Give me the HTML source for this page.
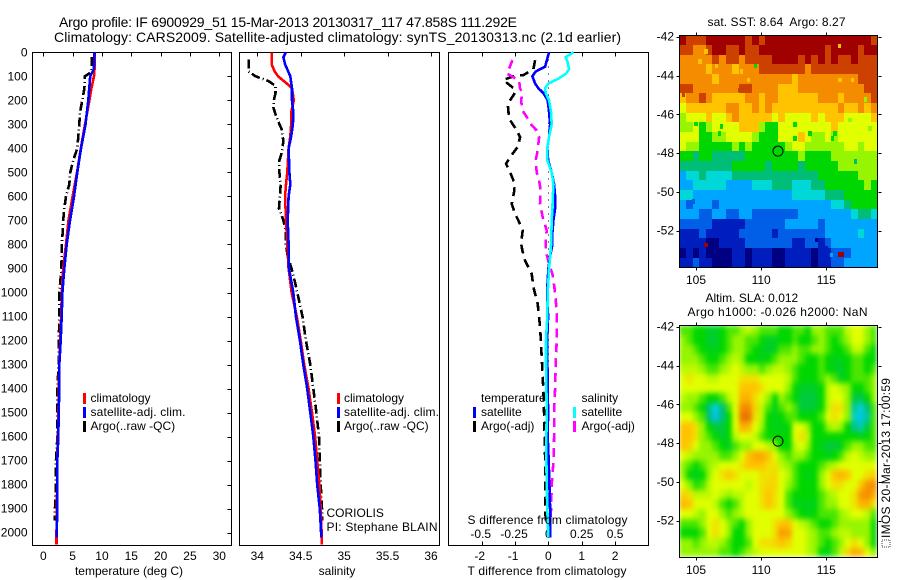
<!DOCTYPE html>
<html lang="en">
<head>
<meta charset="utf-8">
<title>Argo profile IF 6900929_51</title>
<style>
html,body{margin:0;padding:0;background:#fff;}
svg{display:block;}
text{font-family:"Liberation Sans",Arial,sans-serif;font-size:12px;fill:#000;}
.title{font-size:14px;}
</style>
</head>
<body>
<svg id="chart" xmlns="http://www.w3.org/2000/svg" width="900" height="580" viewBox="0 0 900 580">
  <defs>
    <clipPath id="clip-sst"><rect x="679.5" y="35.5" width="198" height="232"/></clipPath>
    <clipPath id="clip-sla"><rect x="679.5" y="325.5" width="198" height="232"/></clipPath>
    <filter id="smooth" x="0" y="0" width="100%" height="100%" color-interpolation-filters="sRGB">
      <feGaussianBlur stdDeviation="2.4 2.8" edgeMode="duplicate"/>
    </filter>
  </defs>

  <text class="title" x="59" y="27" textLength="458" lengthAdjust="spacing">Argo profile: IF 6900929_51 15-Mar-2013 20130317_117 47.858S 111.292E</text>
  <text class="title" x="54" y="42" textLength="567" lengthAdjust="spacing">Climatology: CARS2009. Satellite-adjusted climatology: synTS_20130313.nc (2.1d earlier)</text>

  <g id="panels"></g>
  <g id="maps"></g>

  <text x="129" y="575" text-anchor="middle">temperature (deg C)</text>
  <text x="337" y="575" text-anchor="middle">salinity</text>
  <text x="547" y="575" text-anchor="middle" textLength="159" lengthAdjust="spacing">T difference from climatology</text>
  <text x="547.5" y="524" text-anchor="middle" textLength="160" lengthAdjust="spacing">S difference from climatology</text>

  <g>
    <rect x="83" y="393" width="3" height="11" fill="#f00"/>
    <rect x="83" y="407" width="3" height="11" fill="#00f"/>
    <rect x="83" y="421" width="3" height="11" fill="#000"/>
    <text x="90.5" y="402">climatology</text>
    <text x="90.5" y="416" textLength="95" lengthAdjust="spacing">satellite-adj. clim.</text>
    <text x="90.5" y="430">Argo(..raw -QC)</text>
  </g>
  <g>
    <rect x="337" y="393" width="3" height="11" fill="#f00"/>
    <rect x="337" y="407" width="3" height="11" fill="#00f"/>
    <rect x="337" y="421" width="3" height="11" fill="#000"/>
    <text x="344" y="402">climatology</text>
    <text x="344" y="416" textLength="95" lengthAdjust="spacing">satellite-adj. clim.</text>
    <text x="344" y="430">Argo(..raw -QC)</text>
    <text x="326.5" y="517">CORIOLIS</text>
    <text x="326.5" y="531" textLength="111" lengthAdjust="spacing">PI: Stephane BLAIN</text>
  </g>
  <g>
    <rect x="473" y="407" width="3" height="11" fill="#00f"/>
    <rect x="473" y="421" width="3" height="11" fill="#000"/>
    <rect x="573" y="407" width="3" height="11" fill="#0ff"/>
    <rect x="573" y="421" width="3" height="11" fill="#f0f"/>
    <text x="481" y="402">temperature</text>
    <text x="481" y="416">satellite</text>
    <text x="481" y="430">Argo(-adj)</text>
    <text x="581.5" y="402">salinity</text>
    <text x="581.5" y="416">satellite</text>
    <text x="581.5" y="430">Argo(-adj)</text>
  </g>

  <text x="707.5" y="26" textLength="138" lengthAdjust="spacing" xml:space="preserve">sat. SST: 8.64  Argo: 8.27</text>
  <text x="705.5" y="302">Altim. SLA: 0.012</text>
  <text x="687.5" y="316" textLength="180" lengthAdjust="spacing">Argo h1000: -0.026 h2000: NaN</text>

  <rect x="882" y="540" width="8" height="7" fill="none" stroke="#444" stroke-width="1" stroke-dasharray="1 1"/>
  <text transform="translate(890,538) rotate(-90)" textLength="160" lengthAdjust="spacing">IMOS 20-Mar-2013 17:00:59</text>
</svg>
<script>
const depthTicks = [0,100,200,300,400,500,600,700,800,900,1000,1100,1200,1300,1400,1500,1600,1700,1800,1900,2000];
const tempTicks = [0,5,10,15,20,25,30];
const salTicks = [34,34.5,35,35.5,36];
const tDiffTicks = [-2,-1,0,1,2];
const sDiffTicks = [-0.5,-0.25,0,0.25,0.5];
const lonTicks = [105,110,115];
const latTicks = [-42,-44,-46,-48,-50,-52];
const argoLon = 111.292;
const argoLat = -47.9;

const tempClimDepths = [0,50,100,150,200,300,400,500,600,700,800,900,1000,1100,1200,1300,1400,1500,1600,1700,1800,1900,2000,2050];
const tempClim = [8.7,8.8,8.64,8.2,7.85,7.1,6.4,5.74,5.0,4.3,3.87,3.4,3.15,3.05,2.9,2.7,2.68,2.58,2.5,2.36,2.35,2.33,2.25,2.25];
const tempSatDepths = [0,70,100,200,300,400,500,600,700,800,900,1000,1100,1200,1300,1400,1500,1600,1700,1800,1900,2000,2020];
const tempSat = [8.75,8.6,8.0,7.67,7.2,6.42,5.8,5.23,4.55,3.98,3.58,3.25,3.13,2.96,2.73,2.73,2.62,2.56,2.39,2.39,2.39,2.28,2.28];
const tempArgoDepths = [20,70,85,100,150,200,250,300,350,400,450,500,550,600,650,700,750,800,900,1000,1100,1200,1300,1400,1500,1600,1700,1800,1900,1950];
const tempArgo = [8.24,8.24,8.0,7.1,7.0,6.65,6.25,6.13,5.97,5.8,5.1,4.6,4.43,3.87,3.58,3.4,3.3,3.13,3.1,2.73,2.75,2.65,2.6,2.4,2.4,2.4,2.16,2.16,2.0,2.0];

const salClimDepths = [0,50,80,100,130,150,200,250,300,350,400,500,550,600,700,800,900,1000,1100,1200,1300,1400,1500,1600,1700,1800,1900,2000,2050];
const salClim = [34.165,34.165,34.2,34.24,34.34,34.40,34.42,34.39,34.39,34.38,34.36,34.345,34.33,34.32,34.33,34.345,34.36,34.395,34.455,34.5,34.54,34.59,34.63,34.665,34.69,34.715,34.73,34.74,34.74];
const salSatDepths = [0,20,50,100,150,200,250,300,350,400,500,550,600,700,800,900,1000,1100,1200,1300,1400,1500,1600,1700,1800,1900,2000,2020];
const salSat = [34.33,34.30,34.32,34.38,34.40,34.40,34.415,34.41,34.39,34.36,34.37,34.38,34.36,34.35,34.36,34.365,34.415,34.445,34.49,34.53,34.575,34.61,34.645,34.67,34.69,34.72,34.735,34.735];
const salArgoDepths = [30,80,100,120,140,170,200,230,270,320,370,420,450,500,550,600,650,700,750,800,850,900,950,1000,1100,1200,1300,1400,1500,1600,1700,1800,1900,1950];
const salArgo = [33.9,33.9,33.98,34.13,34.21,34.21,34.19,34.185,34.22,34.28,34.30,34.28,34.255,34.255,34.27,34.26,34.25,34.30,34.33,34.33,34.35,34.395,34.43,34.46,34.52,34.56,34.61,34.645,34.68,34.71,34.72,34.73,34.745,34.75];

const tDiffSatDepths = [0,20,60,80,100,130,150,170,200,250,300,350,400,450,500,550,600,650,700,750,800,850,900,950,1000,1100,1200,1400,1500,1600,1700,1800,1900,2020];
const tDiffSat = [.02,-.02,-.1,-.38,-.48,-.4,-.3,-.15,-.02,.02,.05,.02,-.03,-.01,.1,.17,.2,.2,.15,.12,.12,.05,0,-.02,-.04,-.01,-.04,-.02,-.01,-.02,.01,.03,.05,.05];
const tDiffArgoDepths = [33,70,95,100,115,130,155,175,214,276,318,353,394,436,464,500,533,575,631,672,707,742,797,825,867,922,978,1047,1144,1269,1408,1547,1686,1825,1964];
const tDiffArgo = [-.4,-.45,-.75,-1.05,-1.35,-1.22,-1,-1.03,-1.22,-1.18,-.98,-.85,-.92,-1.15,-1.27,-1.15,-1.05,-1.02,-1.1,-1,-.88,-.77,-.82,-.78,-.7,-.5,-.45,-.32,-.25,-.2,-.15,-.12,-.1,-.1,-.08];
const sDiffSatDepths = [0,20,40,70,90,110,130,150,170,200,250,300,350,400,450,500,550,600,650,700,800,900,950,1000,1100,1200,1300,1400,1500,1600,1700,1800,1900,2020];
const sDiffSat = [.188,.13,.143,.155,.13,.075,0,-.025,-.02,.005,.02,.025,.005,-.008,-.008,.025,.038,.033,.03,.025,.02,.005,0,-.005,-.008,-.018,-.018,-.015,-.013,-.015,-.015,-.013,-.008,0];
const sDiffArgoDepths = [33,89,117,150,169,200,242,269,304,325,353,408,450,500,533,575,631,686,742,783,825,881,922,978,1047,1100,1200,1250,1400,1500,1600,1700,1800,1900,1960];
const sDiffArgo = [-.27,-.31,-.22,-.213,-.195,-.205,-.195,-.163,-.125,-.088,-.07,-.08,-.095,-.088,-.07,-.058,-.063,-.043,-.013,-.02,-.02,.005,.03,.045,.058,.063,.063,.058,.05,.043,.043,.038,.025,.02,.013];

const sstLevels = [
[12,11,11,11,12,12,12,12,12,12,11,12,11,12,12,12,12,12,12,12,12,12,12,12,12,12,12,12,12,11],
[11,11,10,10,11,12,12,11,11,12,11,11,12,12,12,12,12,12,12,12,12,12,11,12,12,12,12,11,12,12],
[10,10,10,10,10,11,10,11,11,10,11,11,11,11,12,12,12,12,11,12,11,12,11,12,11,11,12,11,11,11],
[10,10,10,10,9,10,10,10,9,10,10,10,11,11,11,11,11,11,11,10,11,11,11,11,11,11,11,11,11,11],
[10,10,10,10,10,9,10,10,10,10,10,10,10,10,10,10,10,9,10,10,10,10,10,10,10,10,10,11,11,11],
[11,11,10,10,10,10,10,10,10,11,11,10,10,10,10,9,9,9,10,10,10,10,10,10,10,10,10,10,11,11],
[9,10,10,11,10,9,9,9,9,9,10,10,9,10,10,9,9,9,9,9,9,10,10,10,9,10,10,10,10,11],
[8,9,9,9,9,9,9,10,10,9,9,10,9,10,9,9,9,9,9,9,9,9,9,9,10,9,9,10,9,10],
[7,8,8,8,9,8,8,9,10,9,9,9,9,9,8,9,8,8,8,8,9,8,9,9,9,8,8,8,8,9],
[7,7,8,6,7,8,8,8,8,9,9,9,7,6,6,8,8,8,8,8,8,8,8,9,8,8,8,8,8,8],
[8,8,8,6,6,7,7,8,8,8,8,7,6,6,6,8,8,8,9,8,7,7,8,7,8,8,8,8,8,8],
[8,7,7,6,6,6,6,6,7,6,7,6,6,6,6,6,7,8,8,7,7,7,7,7,7,8,8,7,8,8],
[6,6,5,6,6,5,5,5,5,5,6,6,6,6,6,6,6,6,7,6,6,6,6,7,7,7,7,7,7,7],
[5,5,5,5,5,5,5,5,6,6,6,6,6,5,6,6,6,6,5,6,6,6,6,6,7,7,7,7,7,7],
[3,4,4,5,4,4,4,4,5,5,5,5,5,5,5,5,5,5,5,5,5,6,6,6,6,6,6,7,7,7],
[3,3,4,4,4,4,4,3,3,3,3,4,4,4,5,5,5,4,4,4,5,5,6,6,6,6,6,6,7,6],
[4,4,3,3,3,3,3,3,3,3,3,3,3,3,3,3,3,4,4,4,4,4,5,5,5,6,6,6,6,6],
[3,2,3,3,3,2,3,3,3,3,3,3,3,3,3,3,3,3,3,3,3,3,3,4,4,5,6,6,6,6],
[3,3,3,2,2,3,3,2,2,3,3,2,2,2,2,2,2,2,3,3,3,3,3,3,3,3,4,5,5,4],
[2,2,2,2,2,1,1,1,1,1,2,2,2,2,2,2,3,3,3,3,3,2,3,3,3,3,3,3,3,3],
[1,1,1,2,1,1,1,1,1,2,2,2,2,2,1,2,2,2,2,2,2,2,3,3,3,3,3,4,3,3],
[1,1,1,1,0,0,1,1,1,1,2,2,2,2,2,2,2,1,1,2,2,1,2,3,3,3,3,3,3,3],
[0,1,0,1,0,0,0,0,1,1,0,1,1,1,0,0,1,1,1,1,0,1,1,2,2,2,3,3,3,3],
[1,1,2,1,1,0,0,0,1,1,0,1,1,1,0,0,1,1,1,1,0,1,1,2,2,3,3,3,3,3]
];
const sstSpeckLons = [109.58,105.77,106.59,106.53,108.5,109.04,117.0,116.0,112.6,113.75,112.6,118.02,116.0,116.25,105.77,117.26,106.8,105.0,105.44,106.97,115.67,115.49,104.03,104.79,114.26,115.03,115.41,116.82,118.35,105.31,116.05,104.03,105.44,108.38];
const sstSpeckLats = [-43.51,-42.75,-43.51,-44.23,-43.8,-44.23,-44.23,-42.48,-46.52,-46.98,-47.24,-45.23,-53.22,-53.22,-52.74,-48.44,-46.98,-46.5,-46.5,-46.64,-46.98,-47.24,-49.47,-50.5,-52.48,-52.9,-53.25,-46.29,-46.72,-43.29,-44.23,-45,-45.23,-44.75];
const sstSpeckLevels = [6,9,9,9,9,9,9,9,6,6,6,7,12,12,12,5,6,6,6,6,6,6,3,2,0,1,3,7,7,9,9,11,11,11];

const slaLevels = [
[6.5,6.5,6,6,5.7,5.7,6,6.5,6.5,7,7.5,7,6.5,6.5,6.5,6,6,6.5,6.5,6,7,7,6.5,6.5,6.5,7.5,8,8,7,6.5],
[7,6.5,6,6,5.6,5.6,6,6.5,7,7,6.5,6.5,6,5.7,5.7,6,6,6.5,6,6,6.5,7,6.5,6,6.5,7,8,8,7,6.5],
[7,7,6.5,6,5.8,5.8,6,6.5,7,7,6.5,6,5.8,5.6,5.8,6.5,6.5,7,6.5,6.5,7,7,6.5,6,6,6.5,7.5,7.5,6.5,6],
[7,7,7,6.5,6,6,6.5,7,7.5,7,6,6,5.8,6,6.5,7,7,7,6.5,6,6,6.5,6,5.8,5.8,6,6.5,6.5,6,6],
[7.5,7.5,7.5,7,6.5,6.5,7,7.5,8,7.5,7,7,6.5,7,7.5,7.5,7,6.5,6,6,6,6.5,6,5.8,5.6,6,6.5,6.5,6,6.5],
[8,8.5,8,8,7.5,7.5,8,8,8,8.5,8.5,8.5,8,8,8,8,7.5,6.5,6,6,6,6.5,7,6.5,5.8,6,6.5,6.5,6.5,7],
[8,8,8,8,8,8,8,8,8,9,9,9,8.5,8,8,8,7,6,5.7,5.6,5.7,6,7.5,8,7.5,7,6,6,6.5,7],
[7.5,7,7,6.5,6,6,6.5,7.5,8,9.3,9.3,8.5,8,7,6,7,6.5,6,5.5,5.5,5.5,6,7.5,8,8,7,5.5,5.3,6,7],
[7,7,6.5,6,5,3.9,5,6.5,8,10,10,8.7,7.5,6.5,5.8,6.5,7,6.5,5.5,5.5,5.6,6,7.5,8.5,8.5,7,4.6,3.9,5,6.5],
[8,8,7,6.5,5,3.6,5,6,8,10.3,10.3,8.5,7.5,6,5.8,6,6.5,6.5,6,6,6,6.5,8,8.5,8,7,4.2,3.6,4.6,6.5],
[9,9,8.5,7,6,5.5,5.5,6,8,9.4,9.2,8,7,6,5.8,5.8,6,8,8,7,6,6,7,7.5,7,6,4.8,4.4,5.5,6.5],
[9,9,8.5,7,6.5,6,5.6,6,7.5,8,8,7.5,6.5,6,6,6,6,8,8.5,7.5,6,6,6,6,6,6,6,5.8,6,6.5],
[9,8.8,8,7,7,6.5,6,5.7,6.5,7,7,8,8,7.5,7,6,6,7.5,8,7,6,5.8,5.5,5.5,5.8,6.5,7,7,6.5,6.5],
[8,7.5,7,7,7,7,6.5,6.5,7,8,9,9.5,9.5,9,8,7,6.5,7,7,6.5,6,6,5.8,6,6.5,7.5,8,7.5,7,7],
[7,6.5,6,6.5,7,7.5,8,8,8,8.5,9,9,9,8.5,8.5,7.5,7,6.5,6,6,6,6.5,7,7.5,8,8,8,8,8,8],
[7,6,5.7,6,7,8,8.5,9,8.5,8,8,8,8.5,8.5,8.7,8,7.5,6.5,6,5.8,6,7,8,9,9.3,9,8,8,8.5,8.8],
[8,7,6.2,6.5,7.5,8,8,8,8,8,7.5,8,8.5,8.7,8.7,8,7,6.5,6,6,6,7,8,8.5,8.5,8,8,9,9.8,10],
[8.7,8.5,7.5,7.5,7.5,8,7.5,7,7.5,7.5,8,8,8.5,9,8.5,8,6.5,6,6,6,6,6.5,7,7.5,8,8,8.5,9.8,10,9.5],
[9.2,9,8,8,8,7.5,6.5,6,6.5,7.5,8,8,8.5,9,8.5,8,6.5,5.8,5.8,5.8,5.8,6.5,7,7,8,8,8.5,9.3,9.3,8.5],
[8,8,7.5,7,8,8,7,6.5,7,7.5,8,8,8,8,8,8,7,6.5,6,5.8,6,6.5,6.5,6.5,7,7.5,8,8,7.5,6.5],
[6.5,6.5,6.5,7,8,8.5,8,7,6.5,6,7,8,8,8,8.5,9,9,8,7.5,7,6.5,6,6,6.5,7,7,7,7,7,6],
[6,6,6,6.5,8,8.5,8,7,6,6,7,8,8,8,8.5,9.7,9.5,8,8,7.5,7,6.5,6.5,7,7.5,7.5,7,7,7,6],
[7,7,6.5,7,7.5,7.5,7,6.5,6,6,6.5,8,8.5,8.5,8.7,9,8.7,8,8,7.5,7,6.5,6,6.5,7,8,8.5,8,7,6],
[7,7,7,7,7,7,6.5,6.5,6,6.5,7,7.5,8,8,8,8,8,8,8,7.5,7,6,5.8,6.5,7.5,8.7,9.5,9.2,8,7]
];

const NS = 'http://www.w3.org/2000/svg';
const panels = document.getElementById('panels');
const maps = document.getElementById('maps');
const palette = [[0,0,130],[0,30,190],[0,95,230],[0,165,255],[0,215,215],[0,190,120],[0,215,0],[150,245,0],[225,255,0],[255,195,0],[245,140,0],[205,65,0],[160,0,0]];

function xTemp(v){ return 43.3 + 5.867 * v; }
function xSal(v){ return 257.3 + 86.85 * (v - 34); }
function xTDiff(v){ return 548.4 + 33.33 * v; }
function xSDiff(v){ return 548.4 + 133.3 * v; }
function yDepth(d){ return 52.3 + 0.2402 * d; }
function xLon(v){ return 696 + 13.03 * (v - 105); }
function yLat(v, top){ return top + 1.4 + 19.4 * (-42 - v); }

function make(tag, attrs, parent){
  const el = document.createElementNS(NS, tag);
  for (const k in attrs) el.setAttribute(k, attrs[k]);
  parent.appendChild(el);
  return el;
}
function color(level){
  const c = Math.max(0, Math.min(palette.length - 1, level));
  const i = Math.min(palette.length - 2, Math.floor(c));
  const f = c - i;
  const mix = [0,1,2].map(n => Math.round(palette[i][n] + (palette[i+1][n] - palette[i][n]) * f));
  return 'rgb(' + mix.join(',') + ')';
}
function pointsOf(values, depths, xFn){
  return values.map((v, i) => xFn(v).toFixed(1) + ',' + yDepth(depths[i]).toFixed(1)).join(' ');
}
function drawLine(values, depths, xFn, stroke, dash, name){
  const el = make('polyline', {points: pointsOf(values, depths, xFn), fill: 'none', stroke: stroke, 'stroke-width': 2.6, 'stroke-dasharray': dash, 'shape-rendering': 'crispEdges', 'stroke-linejoin': 'miter'}, panels);
  
  
}
function drawFrame(x0, x1, y0, y1, parent, name){
  const el = make('rect', {x: x0, y: y0, width: x1 - x0, height: y1 - y0, fill: 'none', stroke: '#000', 'stroke-width': 1, 'shape-rendering': 'crispEdges'}, parent);
  
  
}
function drawSeg(x1, y1, x2, y2, parent){
  const el = make('line', {x1: Math.round(x1) + .5, y1: Math.round(y1) + .5, x2: Math.round(x2) + .5, y2: Math.round(y2) + .5, stroke: '#000', 'stroke-width': 1, 'shape-rendering': 'crispEdges'}, parent);
  
  
}
function drawLabel(x, y, str, anchor, parent){
  const el = make('text', {x: x, y: y, 'text-anchor': anchor}, parent);
  el.textContent = str;
  
  
}

/* profile panel frames */
drawFrame(32.5, 231.5, 52.5, 545.5, panels, 'temperature-plot-frame');
drawFrame(239.5, 439.5, 52.5, 545.5, panels, 'salinity-plot-frame');
drawFrame(448.5, 648.5, 52.5, 545.5, panels, 'difference-plot-frame');

/* depth axis */
depthTicks.forEach(d => {
  drawSeg(227, yDepth(d), 231, yDepth(d), panels);
  drawLabel(27.5, yDepth(d) + 4, String(d), 'end', panels);
});
/* temperature axis */
tempTicks.forEach(v => {
  drawSeg(xTemp(v), 52, xTemp(v), 56, panels);
  drawLabel(xTemp(v), 560, String(v), 'middle', panels);
});
/* salinity axis */
salTicks.forEach(v => {
  drawSeg(xSal(v), 52, xSal(v), 56, panels);
  drawLabel(xSal(v), 560, String(v), 'middle', panels);
});
/* difference axes */
tDiffTicks.forEach(v => {
  drawSeg(xTDiff(v), 52, xTDiff(v), 56, panels);
  drawSeg(xTDiff(v), 541, xTDiff(v), 545, panels);
  drawLabel(xTDiff(v) - (v < 0 ? 2 : 0), 560, String(v), 'middle', panels);
});
sDiffTicks.forEach(v => {
  drawLabel(xSDiff(v) - (v < 0 ? 1 : 0), 538, String(v), 'middle', panels);
});

const zeroLine = make('line', {x1: xTDiff(0), x2: xTDiff(0), y1: yDepth(0), y2: 545, stroke: '#000', 'stroke-width': 1, 'stroke-dasharray': '1 6', 'shape-rendering': 'crispEdges'}, panels);



/* profile lines */
drawLine(tempArgo, tempArgoDepths, xTemp, '#000', '9 3 1 3', 'temperature-argo-line');
drawLine(tempClim, tempClimDepths, xTemp, '#f00', 'none', 'temperature-climatology-line');
drawLine(tempSat, tempSatDepths, xTemp, '#00f', 'none', 'temperature-satellite-line');
drawLine(salArgo, salArgoDepths, xSal, '#000', '9 3 1 3', 'salinity-argo-line');
drawLine(salClim, salClimDepths, xSal, '#f00', 'none', 'salinity-climatology-line');
drawLine(salSat, salSatDepths, xSal, '#00f', 'none', 'salinity-satellite-line');
drawLine(tDiffArgo, tDiffArgoDepths, xTDiff, '#000', '9 6', 'temperature-difference-argo-line');
drawLine(sDiffArgo, sDiffArgoDepths, xSDiff, '#f0f', '9 6', 'salinity-difference-argo-line');
drawLine(tDiffSat, tDiffSatDepths, xTDiff, '#00f', 'none', 'temperature-difference-satellite-line');
drawLine(sDiffSat, sDiffSatDepths, xSDiff, '#0ff', 'none', 'salinity-difference-satellite-line');

/* maps */
function drawCells(levels, top, parent){
  const lonStart = 103.72, lonStep = 15.2 / levels[0].length;
  const latStart = -41.93, latStep = 11.96 / levels.length;
  levels.forEach((row, j) => {
    row.forEach((level, i) => {
      const x0 = Math.round(xLon(lonStart + i * lonStep));
      const x1 = Math.round(xLon(lonStart + (i + 1) * lonStep));
      const y0 = Math.round(yLat(latStart - j * latStep, top));
      const y1 = Math.round(yLat(latStart - (j + 1) * latStep, top));
      const cell = make('rect', {x: x0, y: y0, width: x1 - x0, height: y1 - y0, fill: color(level), 'shape-rendering': 'crispEdges'}, parent);
      
      
    });
  });
}
function drawMapAxes(top, bottom, labelY){
  lonTicks.forEach(v => {
    drawSeg(xLon(v), top - 3, xLon(v), top, maps);
    drawSeg(xLon(v), bottom, xLon(v), bottom + 3, maps);
    drawLabel(xLon(v), labelY, String(v), 'middle', maps);
  });
  latTicks.forEach(v => {
    drawSeg(676, yLat(v, top), 679, yLat(v, top), maps);
    drawSeg(878, yLat(v, top), 881, yLat(v, top), maps);
    drawLabel(674, yLat(v, top) + 4, String(v), 'end', maps);
  });
}
function drawArgoMarker(top, name){
  const marker = make('circle', {cx: xLon(argoLon), cy: yLat(argoLat, top), r: 5, fill: 'none', stroke: '#000', 'stroke-width': 1}, maps);
  
  
}

const sstGroup = make('g', {'clip-path': 'url(#clip-sst)'}, maps);


drawCells(sstLevels, 35.3, sstGroup);
sstSpeckLevels.forEach((level, k) => {
  const x0 = Math.round(xLon(sstSpeckLons[k] - 0.125));
  const x1 = Math.round(xLon(sstSpeckLons[k] + 0.125));
  const y0 = Math.round(yLat(sstSpeckLats[k] + 0.125, 35.3));
  const y1 = Math.round(yLat(sstSpeckLats[k] - 0.125, 35.3));
  const speck = make('rect', {x: x0, y: y0, width: x1 - x0, height: y1 - y0, fill: color(level), 'shape-rendering': 'crispEdges'}, sstGroup);
  
  
});

const slaClip = make('g', {'clip-path': 'url(#clip-sla)'}, maps);


const slaGroup = make('g', {filter: 'url(#smooth)'}, slaClip);


drawCells(slaLevels, 325.3, slaGroup);

drawFrame(679.5, 877.5, 35.5, 267.5, maps, 'sst-map-frame');
drawFrame(679.5, 877.5, 325.5, 557.5, maps, 'sla-map-frame');
drawMapAxes(35.3, 267.3, 284);
drawMapAxes(325.3, 557.3, 574);
drawArgoMarker(35.3, 'sst-argo-location-marker');
drawArgoMarker(325.3, 'sla-argo-location-marker');
</script>
</body>
</html>
